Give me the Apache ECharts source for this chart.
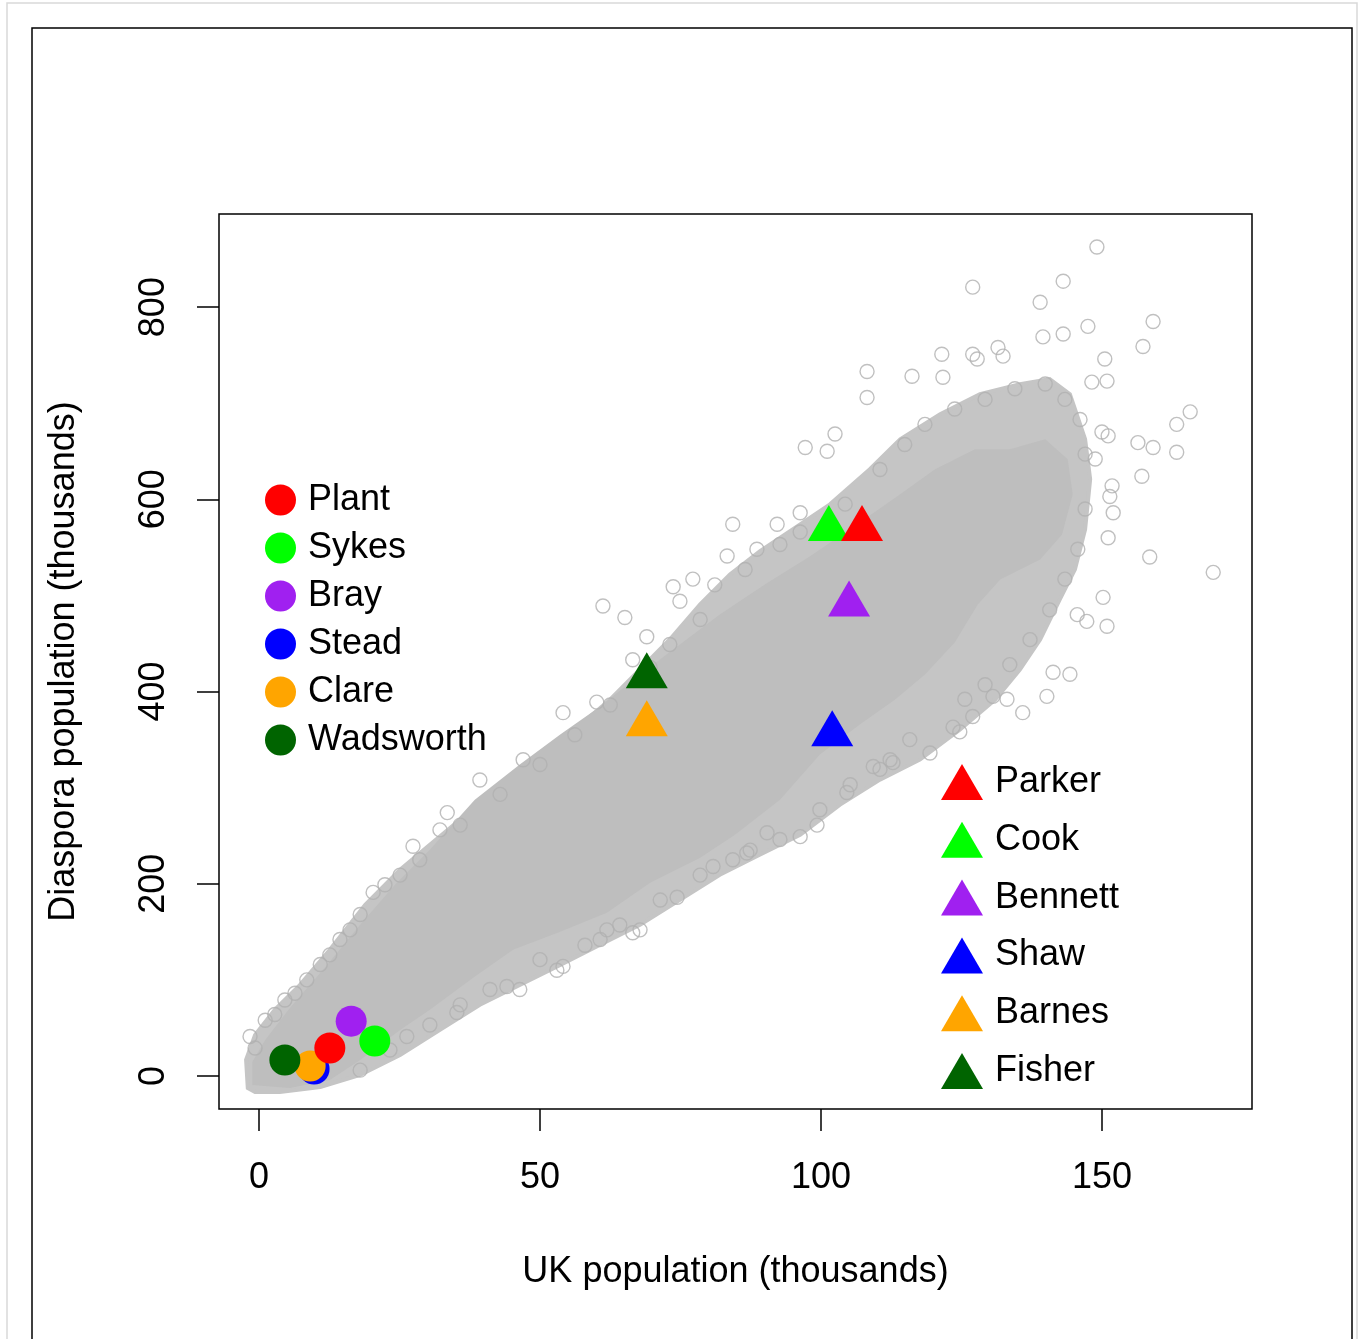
<!DOCTYPE html>
<html>
<head>
<meta charset="utf-8">
<script src="https://cdn.jsdelivr.net/npm/echarts@6/dist/echarts.min.js"></script>
<style>
html,body{margin:0;padding:0;background:#fff;}
#chart{width:1361px;height:1339px;}
</style>
</head>
<body>
<div id="chart"></div>
<script>
// ---- data (thousands) ----
const xTicks = [0, 50, 100, 150];
const yTicks = [0, 200, 400, 600, 800];

// envelope of the loosely packed part of the surname cloud [UK, diaspora]
const cloudOuter = [
  [-2.0,-12.5],[-2.3,16.7],[-0.7,42.7],[2.8,68.8],[7.3,94.8],[12.6,131.3],[18.9,178.1],[25.1,214.6],
  [30.4,240.6],[35.8,266.7],[42.9,297.9],[50.0,329.2],[56.2,360.4],[62.5,391.7],[67.8,422.9],[73.1,454.2],
  [78.5,490.6],[83.8,521.9],[89.1,545.8],[96.3,574],[101.6,594.8],[108.7,631.3],[114.1,662.5],[121.2,688.5],
  [128.3,709.4],[135.4,719.8],[140.7,725],[144.3,709.4],[147.0,662.5],[147.9,620.8],[147.0,568.8],[145.2,527.1],
  [142.5,495.8],[139.0,454.2],[135.4,422.9],[131.0,391.7],[124.7,360.4],[117.6,329.2],[110.5,308.3],[103.4,282.3],
  [96.3,251],[89.1,230.2],[82.0,209.4],[74.9,183.3],[67.8,157.3],[60.7,136.5],[53.6,115.6],[46.4,94.8],
  [39.3,74],[32.2,47.9],[25.1,21.9],[18.0,1],[10.9,-11.5],[3.7,-16.7],[-0.7,-16.7]
];
// envelope of the densely packed core of the cloud
const cloudCore = [
  [-1.2,-9.4],[-1.2,14.6],[1.1,37.5],[5.5,70.8],[11.7,112.5],[18.0,157.3],[24.2,199],[30.4,235.4],
  [38.4,287.5],[46.4,324],[53.6,355.2],[60.7,384.4],[67.8,417.7],[74.9,449],[82.0,480.2],[90.0,511.5],
  [98.0,540.6],[106.9,576],[114.1,605.2],[120.3,631.3],[127.4,652.1],[133.6,652.1],[139.9,662.5],[143.9,641.7],
  [144.8,605.2],[142.9,563.5],[139.0,537.5],[131.9,516.7],[127.9,490.6],[123.8,451],[118.5,417.7],[113.2,391.7],
  [106.9,365.6],[99.8,334.4],[92.7,287.5],[84.7,251],[78.5,227.1],[69.6,201],[61.9,169.8],[53.6,150],
  [45.2,131.3],[38.1,102.1],[30.4,68.8],[25.1,47.9],[18.0,16.7],[12.6,-4.2],[5.5,-12.5]
];
// individual surnames at the edge of the cloud and outliers
const otherSurnames = [
  [149.1,862.5],[127.0,820.8],[143.1,827],[139.0,805],[159.1,785],[157.3,759],[139.5,769],[143.1,772],
  [147.5,780],[121.5,751],[127.0,751],[127.8,746],[131.5,758],[132.4,749],[108.2,733],[108.2,706],
  [116.2,728],[121.7,727],[150.5,746],[150.9,723],[148.2,722],[165.7,691],[163.3,678],[156.4,659],
  [159.1,654],[163.3,649],[157.1,624],[150.0,670],[151.1,666],[148.8,642],[151.8,614],[151.4,603],
  [152.0,586],[151.1,560],[158.5,540],[169.8,524],[150.2,498],[145.6,480],[147.3,473],[150.9,468],
  [97.2,654],[101.1,650],[102.5,668],
  [141.3,420],[144.3,418],[140.2,395],[135.9,378],[133.1,392],[130.6,395],[127.0,374],[124.7,358],
  [123.5,363],[119.4,336],[112.3,329],
  [61.2,489],[65.1,477],[69.0,457],[73.7,509],[77.2,517],[74.9,494],[84.3,574],[83.3,541],
  [88.6,548],[92.2,574],[96.3,586],[96.3,566],
  [61.9,152],[66.5,149],[74.4,186],[84.3,225],[90.4,253],[96.3,249],[99.3,261],[104.6,295],
  [109.3,322],[112.8,326],[54.1,114],[80.8,218],[86.8,232],[46.4,90],
  [27.4,239],[33.5,274],[39.3,308],[47.0,329],[54.1,378],[60.1,389],[66.5,433],
  [-1.6,41],[1.1,58],[4.6,79],[8.5,100],[12.6,126],[16.2,152],[20.3,191],[25.1,209],[28.6,225],[32.2,256],
  [26.3,41],[35.2,66],[44.1,93],[53.0,110],[60.7,142],[67.8,152],
  [78.5,475],[81.1,511],[86.5,527],[92.7,553],[104.3,595],[110.5,631],[114.9,657],[118.5,678],
  [123.8,694],[129.2,704],[134.5,715],[139.9,720],[143.4,704],[146.1,683],[147.0,647],[147.0,590],
  [145.7,548],[143.4,517],[140.7,485],[137.2,454],[133.6,428],[129.2,407],[125.6,392],
  [115.8,350],[110.5,319],[105.2,303],[99.8,277],[92.7,246],[87.4,235],[78.5,209],[71.4,183],
  [64.2,157],[58.0,136],[50.0,121],[41.1,90],[35.8,74],[30.4,53],[23.3,27],[18.0,6],
  [-0.7,29],[2.8,64],[6.4,86],[10.9,116],[14.4,142],[18.0,168],[22.4,199],[35.8,261],
  [42.9,293],[50.0,324],[56.2,355],[62.5,386],[69.6,425],[73.1,449]
];

// highlighted surnames: circles
const circleNames  = ['Plant', 'Sykes', 'Bray', 'Stead', 'Clare', 'Wadsworth'];
const circleColors = ['#FF0000', '#00FF00', '#A020F0', '#0000FF', '#FFA500', '#006400'];
const circleUK     = [12.6, 20.6, 16.4, 9.8, 9.1, 4.6];
const circleDias   = [29, 36.4, 57, 7.3, 10.4, 16.6];
const circleDrawOrder = ['Stead', 'Clare', 'Plant', 'Wadsworth', 'Bray', 'Sykes'];

// highlighted surnames: triangles
const triNames  = ['Parker', 'Cook', 'Bennett', 'Shaw', 'Barnes', 'Fisher'];
const triColors = ['#FF0000', '#00FF00', '#A020F0', '#0000FF', '#FFA500', '#006400'];
const triUK     = [107.3, 101.4, 105.0, 102.0, 69.0, 69.0];
const triDias   = [569, 569, 490.5, 355.5, 366, 416];
const triDrawOrder = ['Cook', 'Parker', 'Bennett', 'Shaw', 'Barnes', 'Fisher'];

// ---- chart ----
const FONT = '"Liberation Sans", Arial, Helvetica, sans-serif';
const chart = echarts.init(document.getElementById('chart'), null, {renderer: 'canvas'});

const series = [];
series.push({
  type: 'custom', coordinateSystem: 'cartesian2d', data: [[0, 0]], silent: true, z: 1,
  renderItem: (params, api) => ({
    type: 'polygon',
    shape: {points: cloudOuter.map(p => api.coord(p))},
    style: {fill: '#C5C5C5', stroke: '#C5C5C5', lineWidth: 4}
  })
});
series.push({
  type: 'custom', coordinateSystem: 'cartesian2d', data: [[0, 0]], silent: true, z: 1,
  renderItem: (params, api) => ({
    type: 'polygon',
    shape: {points: cloudCore.map(p => api.coord(p))},
    style: {fill: '#BEBEBE', stroke: null}
  })
});
series.push({
  name: 'others', type: 'scatter', data: otherSurnames, symbol: 'circle', symbolSize: 14,
  silent: true, z: 2,
  itemStyle: {color: 'rgba(0,0,0,0)', borderColor: '#B0B0B0', borderWidth: 1.4}
});
circleDrawOrder.forEach(n => {
  const i = circleNames.indexOf(n);
  series.push({
    name: n, type: 'scatter', data: [[circleUK[i], circleDias[i]]],
    symbol: 'circle', symbolSize: 31, z: 3,
    itemStyle: {color: circleColors[i], opacity: 1}
  });
});
triDrawOrder.forEach(n => {
  const i = triNames.indexOf(n);
  series.push({
    name: n, type: 'scatter', data: [[triUK[i], triDias[i]]],
    symbol: 'triangle', symbolSize: [42, 36], symbolOffset: [0, '-16.67%'], z: 3,
    itemStyle: {color: triColors[i], opacity: 1}
  });
});

const legendText = {fontSize: 36, fontFamily: FONT, color: '#000', lineHeight: 36, padding: [0, 0, 0, 7]};

chart.setOption({
  animation: false,
  backgroundColor: '#fff',
  textStyle: {fontFamily: FONT},
  grid: {left: 219, top: 214, width: 1033, height: 895, show: true,
         borderColor: '#000', borderWidth: 1.5, backgroundColor: 'transparent', containLabel: false},
  xAxis: {
    type: 'value', min: -7.12, max: 176.7, position: 'bottom',
    name: 'UK population (thousands)', nameLocation: 'middle', nameGap: 145,
    nameTextStyle: {fontSize: 36, fontFamily: FONT, color: '#000'},
    axisLine: {show: false, onZero: false},
    axisTick: {show: true, customValues: xTicks, length: 22, inside: false,
               lineStyle: {color: '#000', width: 1.5}},
    axisLabel: {customValues: xTicks, fontSize: 36, fontFamily: FONT, color: '#000', margin: 51},
    splitLine: {show: false}
  },
  yAxis: {
    type: 'value', min: -34.4, max: 896.9, position: 'left',
    name: 'Diaspora population (thousands)', nameLocation: 'middle', nameGap: 137, nameRotate: 90,
    nameTextStyle: {fontSize: 36, fontFamily: FONT, color: '#000'},
    axisLine: {show: false, onZero: false},
    axisTick: {show: true, customValues: yTicks, length: 22, inside: false,
               lineStyle: {color: '#000', width: 1.5}},
    axisLabel: {customValues: yTicks, fontSize: 36, fontFamily: FONT, color: '#000', margin: 47, rotate: 90},
    splitLine: {show: false}
  },
  legend: [
    {
      data: circleNames, orient: 'vertical', left: 265, top: 482, padding: 0,
      icon: 'circle', itemWidth: 31, itemHeight: 31, itemGap: 12,
      selectedMode: false, textStyle: legendText
    },
    {
      data: triNames, orient: 'vertical', left: 941, top: 764, padding: 0,
      icon: 'triangle', itemWidth: 42, itemHeight: 36, itemGap: 21.8,
      selectedMode: false, textStyle: legendText
    }
  ],
  graphic: [
    {type: 'rect', silent: true, z: 0, shape: {x: 7, y: 3, width: 1350, height: 1400},
     style: {fill: null, stroke: '#D9D9D9', lineWidth: 1.5}},
    {type: 'rect', silent: true, z: 0, shape: {x: 32, y: 28, width: 1320, height: 1400},
     style: {fill: null, stroke: '#000', lineWidth: 1.5}}
  ],
  series: series
});
</script>
</body>
</html>
